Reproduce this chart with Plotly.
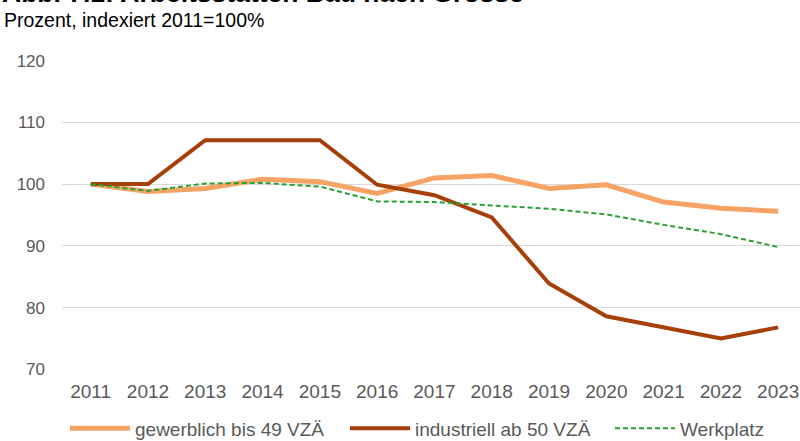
import plotly.graph_objects as go

# Index values (2011 = 100)
years = list(range(2011, 2024))
gewerblich = [100.0, 98.8, 99.3, 100.8, 100.4, 98.5, 101.0, 101.4, 99.3, 99.9, 97.1, 96.1, 95.6]
industriell = [100.0, 100.0, 107.1, 107.1, 107.1, 99.9, 98.2, 94.6, 83.9, 78.6, 76.8, 75.0, 76.8]
werkplatz = [100.0, 98.9, 100.1, 100.2, 99.6, 97.2, 97.1, 96.6, 96.0, 95.1, 93.4, 91.9, 89.8]

series_names = ["gewerblich bis 49 VZÄ", "industriell ab 50 VZÄ", "Werkplatz"]
y_ticks = [70, 80, 90, 100, 110, 120]

title_text = "Abb. 7.1: Arbeitsstätten Bau nach Grösse"
subtitle_text = "Prozent, indexiert 2011=100%"

FONT = "Liberation Sans, Arial, sans-serif"
GREY = "#595959"
PLOT_W = 738.0
PLOT_H = 309.2
LEGEND_Y = -(409 - 369.6) / PLOT_H

fig = go.Figure()
fig.add_trace(go.Scatter(x=years, y=gewerblich, name=series_names[0], mode="lines",
                         line=dict(color="#F6A365", width=5), legend="legend"))
fig.add_trace(go.Scatter(x=years, y=industriell, name=series_names[1], mode="lines",
                         line=dict(color="#A63F0A", width=4), legend="legend"))
fig.add_trace(go.Scatter(x=years, y=werkplatz, name=series_names[2], mode="lines",
                         line=dict(color="#2AA133", width=2, dash="5px,3px"),
                         legend="legend2"))

legend_common = dict(orientation="h", xanchor="left", y=LEGEND_Y, yanchor="top",
                     font=dict(size=19, color=GREY), itemwidth=60,
                     tracegroupgap=0, bgcolor="rgba(0,0,0,0)")

fig.update_layout(
    width=800, height=441,
    margin=dict(l=62, r=0, t=60.4, b=71.4, autoexpand=False),
    paper_bgcolor="white", plot_bgcolor="white",
    font=dict(family=FONT, size=17, color=GREY),
    showlegend=True,
    legend=dict(x=3 / PLOT_W, entrywidth=205, **legend_common),
    legend2=dict(x=548 / PLOT_W, **legend_common),
    xaxis=dict(range=[2010.5, 2023.38], tickmode="array", tickvals=years,
               ticktext=[str(y) for y in years], showgrid=False, zeroline=False,
               showline=False, ticks="", ticklabelstandoff=8, tickangle=0,
               tickfont=dict(size=19, color=GREY)),
    yaxis=dict(range=[69.9, 120.1], tickvals=y_ticks, showgrid=True,
               gridcolor="#D9D9D9", gridwidth=1.3, zeroline=False, showline=False,
               ticks="", ticklabelstandoff=16, tickfont=dict(size=17, color=GREY)),
    annotations=[
        dict(text="<b>" + title_text + "</b>", xref="paper", yref="paper",
             x=-62 / PLOT_W, y=1, xanchor="left", yanchor="bottom", yshift=50,
             showarrow=False, font=dict(size=26.5, color="black", family=FONT)),
        dict(text=subtitle_text, xref="paper", yref="paper",
             x=-60 / PLOT_W, y=1, xanchor="left", yanchor="bottom", yshift=27,
             showarrow=False, font=dict(size=19.5, color="black", family=FONT)),
    ],
)

fig.write_html("out.html")
